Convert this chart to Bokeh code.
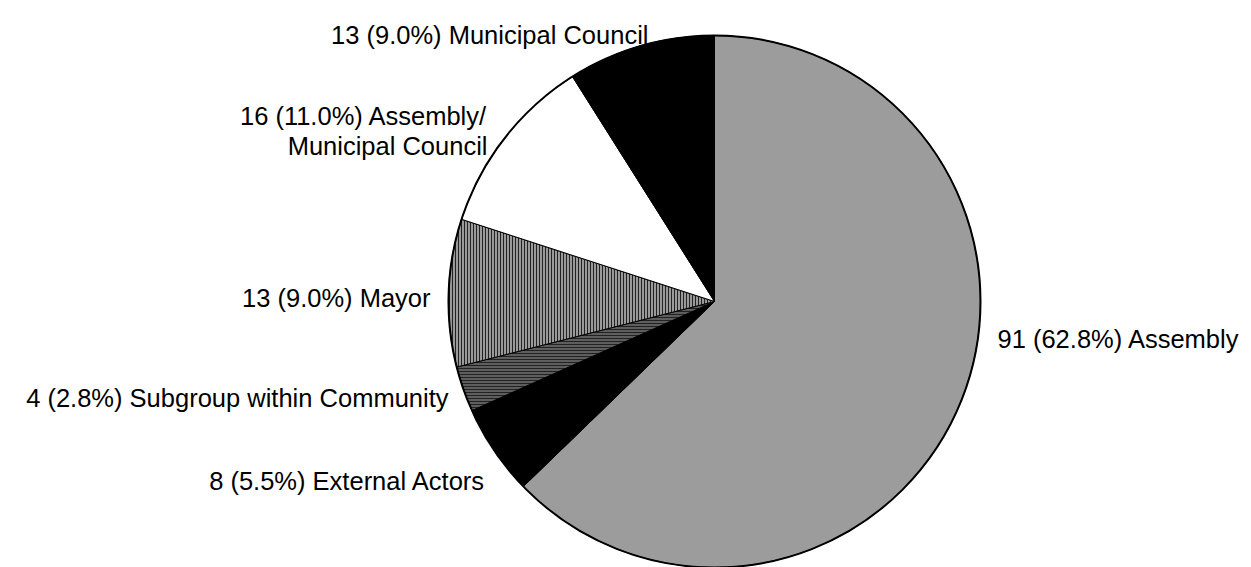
import math
from bokeh.plotting import figure
from bokeh.models import ColumnDataSource, Range1d
from bokeh.core.properties import value
from bokeh.embed import file_html
from bokeh.resources import INLINE

# ---- data ----
categories = ["Assembly", "External Actors", "Subgroup within Community",
              "Mayor", "Assembly/\nMunicipal Council", "Municipal Council"]
counts = [91, 8, 4, 13, 16, 13]
percents = [62.8, 5.5, 2.8, 9.0, 11.0, 9.0]

# ---- styles (per slice) ----
fills = ["#9c9c9c", "#000000", "#5e5e5e", "#9a9a9a", "#ffffff", "#000000"]
hatches = [" ", " ", "-", "|", " ", " "]
hatch_colors = ["#000000", "#000000", "#222222", "#222222", "#000000", "#000000"]

W, H = 1251, 567
cx, cy, r = 714, H - 301, 266

total = sum(counts)
starts, ends = [], []
acc = 0
for c in counts:
    starts.append(math.pi / 2 - 2 * math.pi * acc / total)
    acc += c
    ends.append(math.pi / 2 - 2 * math.pi * acc / total)

src = ColumnDataSource(dict(
    start=starts, end=ends, fill=fills, hatch=hatches, hcol=hatch_colors,
    x=[cx] * len(counts), y=[cy] * len(counts)))

p = figure(width=W, height=H, x_range=Range1d(0, W), y_range=Range1d(0, H),
           output_backend="svg", toolbar_location=None, min_border=0)
p.axis.visible = False
p.grid.visible = False
p.outline_line_color = None
p.background_fill_color = "white"
p.border_fill_color = "white"

p.wedge(x="x", y="y", radius=r, start_angle="start", end_angle="end",
        direction="clock", fill_color="fill", line_color="black", line_width=1,
        hatch_pattern="hatch", hatch_color="hcol", hatch_scale=3, hatch_weight=1,
        source=src)
p.circle(x=[cx], y=[cy], radius=r, fill_color=None, line_color="black", line_width=2)

# label anchors (pixel positions from the top-left), one per slice
anchors = [(997, 338, "left"), (485, 480, "right"), (448, 397, "right"),
           (430, 297, "right"), (487, 115, "right"), (648, 34, "right")]
line_gap = 30

tx, ty, tt, ta = [], [], [], []
for cat, n, pc, (ax, ay, al) in zip(categories, counts, percents, anchors):
    label = f"{n} ({pc:.1f}%) {cat}"
    for i, line in enumerate(label.split("\n")):
        tx.append(ax)
        ty.append(H - (ay + i * line_gap))
        tt.append(line)
        ta.append(al)

lsrc = ColumnDataSource(dict(x=tx, y=ty, text=tt, align=ta))
p.text(x="x", y="y", text="text", text_align="align", text_baseline="alphabetic",
       text_font=value("Liberation Sans"), text_font_size="25.5px",
       text_color="#000000", source=lsrc)

open("out.html", "w").write(file_html(p, INLINE))
